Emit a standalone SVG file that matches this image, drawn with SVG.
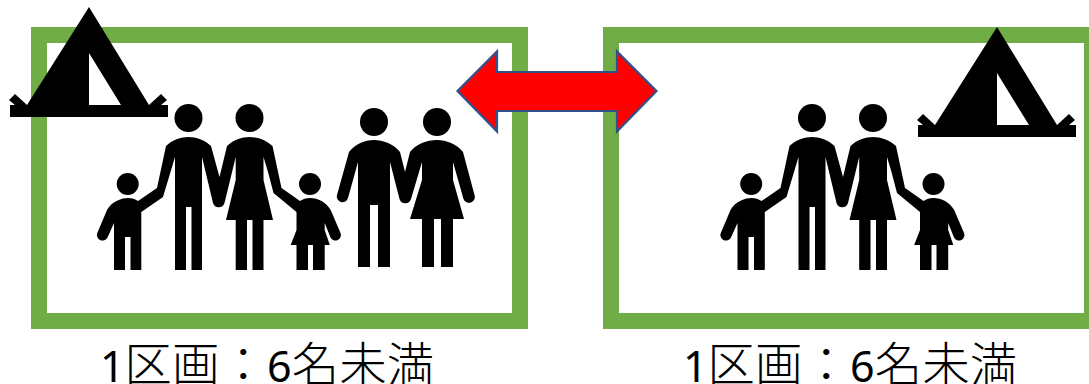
<svg xmlns="http://www.w3.org/2000/svg" xmlns:xlink="http://www.w3.org/1999/xlink" width="1089" height="384" viewBox="0 0 1089 384">
<style>
.frame{fill:#fff;stroke:#70AD47;stroke-width:16}
.label{font-family:"Noto Sans CJK JP","Noto Sans",sans-serif;font-size:47.500px;font-weight:300;fill:#000}
.num{font-family:"Noto Sans",sans-serif;font-size:43px;font-weight:400}
.fig{fill:#000}
</style>
<defs>
<g id="tent-shape" class="fig">
<path fill-rule="evenodd" d="M89 7L149 105L161 94L167 100L161 105H168V117H10V105H15L9 100L15 94L27 105ZM89 53V105H121Z"/>
</g>
<g id="family-shape" class="fig">
<circle cx="127.7" cy="184" r="11"/>
<path d="M107 210C112 201 122 198 128 198C132 198 135 199 138 201L157 188L166 146C172 140 181 137 188.5 137C196 137 205 140 211 146L219.5 177L227 146C233 140 242 137 249.5 137C257 137 266 140 272.5 146L281.5 188L300 201C303 199 306 198 310 198C318 198 326 202 330.7 210L340.3 232.5A5.5 5.5 0 0 1 330.5 237.5L324.7 223V230L329.8 245H324.7V270H313V245H308V270H296.5V245H290.7L296.5 230V212L273.5 193L268 172L263.5 157V180L273 220H263.5V270H252.5V220H247V270H235.7V220H226L235.7 180V157L224.5 203A6 6 0 0 1 213 203L202 157V270H191.5V207H186V270H175V157L163 197L141.3 212V270H130.5V237H125V270H114V223L107.5 237.5A5.5 5.5 0 0 1 97.5 232.5Z"/>
<circle cx="188.5" cy="118" r="14"/>
<circle cx="249.5" cy="118" r="14"/>
<circle cx="310" cy="184" r="11"/>
</g>
</defs>
<g id="zone-left"><rect class="frame" x="39" y="35" width="481" height="286"/></g>
<g id="zone-right"><rect class="frame" x="611" y="35" width="481" height="286"/></g>
<g id="tent-left"><use href="#tent-shape"/></g>
<g id="tent-right"><use href="#tent-shape" transform="translate(908 20)"/></g>
<g id="family-left"><use href="#family-shape"/></g>
<g id="family-right"><use href="#family-shape" transform="translate(623.5 0)"/></g>
<g id="couple" class="fig">
<circle cx="374" cy="122" r="14"/>
<circle cx="437" cy="122" r="14"/>
<path d="M349 152C355 144 365 140 374 140C383 140 394 144 400 152L405 172L410 152C416 144 427 140 437 140C446 140 457 144 463 152L474.5 195A5.5 5.5 0 0 1 463.5 199L453 162V180L464 219H453V267H441V219H434V267H422V219H410L422 180V162L411 199A6 6 0 0 1 399.5 199L390 162V267H378V205H370V267H358V162L348 198A5.5 5.5 0 0 1 337 195Z"/>
</g>
<g id="connectors"><path d="M457.500 91L497 51.500V72H617V51.500L656.500 91L617 131.500V111H497V131.500Z" fill="#f00" stroke="#2F528F" stroke-width="2.200"/></g>
<g id="label-left"><text class="label" x="100" y="382"><tspan class="num">1</tspan>区画：<tspan class="num">6</tspan>名未満</text></g>
<g id="label-right"><text class="label" x="683" y="382"><tspan class="num">1</tspan>区画：<tspan class="num">6</tspan>名未満</text></g>
</svg>
